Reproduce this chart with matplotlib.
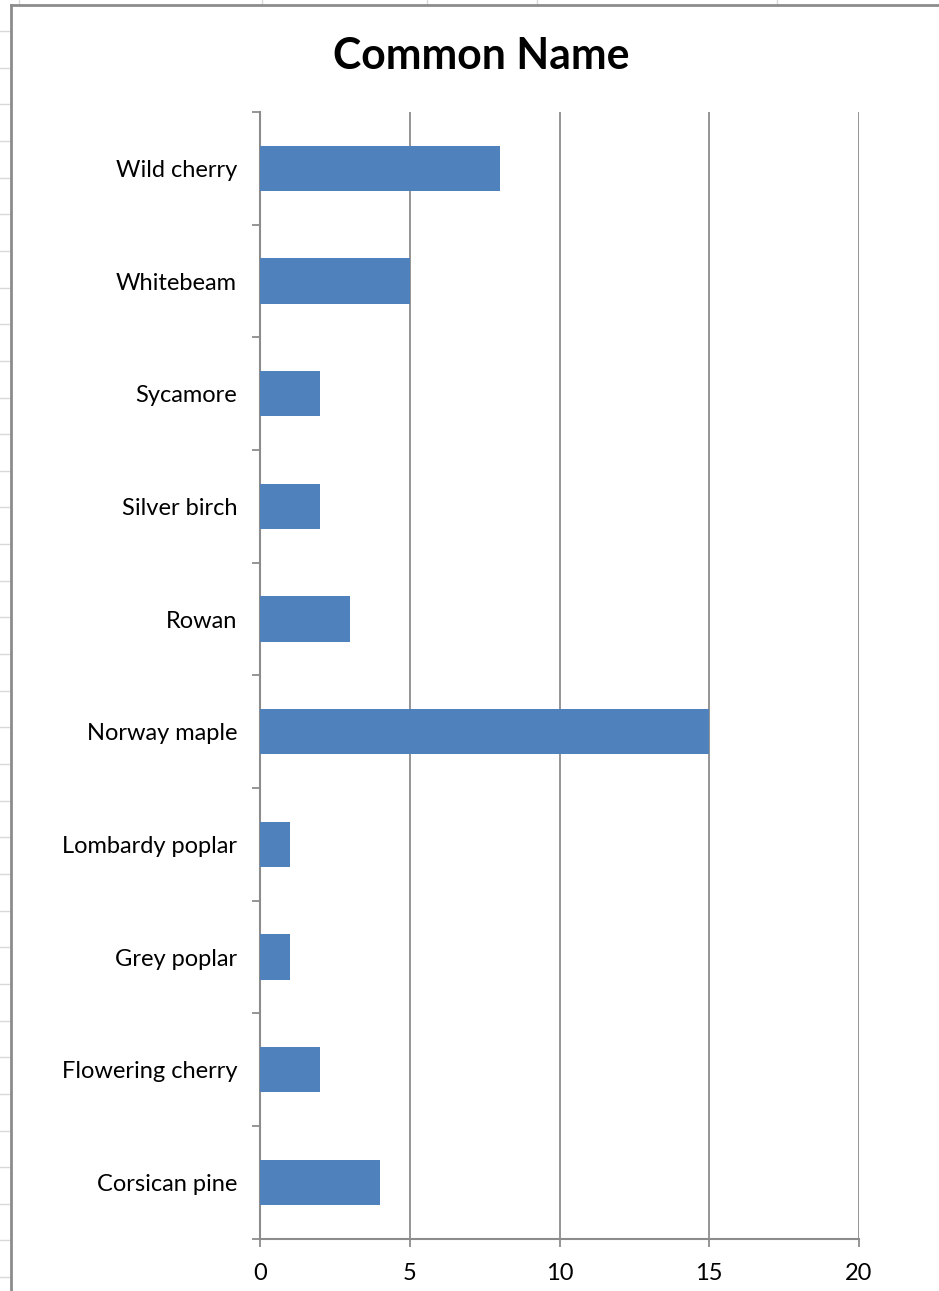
import matplotlib
matplotlib.use("Agg")
import matplotlib.pyplot as plt
from matplotlib.lines import Line2D

categories = ["Corsican pine", "Flowering cherry", "Grey poplar", "Lombardy poplar",
              "Norway maple", "Rowan", "Silver birch", "Sycamore", "Whitebeam", "Wild cherry"]
values = [4, 2, 1, 1, 15, 3, 2, 2, 5, 8]
x_ticks = [0, 5, 10, 15, 20]
title = "Common Name"

W, H = 939, 1291
fig = plt.figure(figsize=(W / 100, H / 100), dpi=100)
fig.patch.set_facecolor("white")

def fx(px):
    return px / W

def fy(py):
    return 1 - py / H

# spreadsheet cell gridlines outside the chart frame
for k in range(40):
    y = 31 + 36.65 * k
    if y > H:
        break
    fig.add_artist(Line2D([0, fx(10)], [fy(y), fy(y)], color="#d9d9d9", lw=1))
for x in [19, 262, 427, 537, 777]:
    fig.add_artist(Line2D([fx(x), fx(x)], [fy(0), fy(4)], color="#d9d9d9", lw=1))
# chart frame
fig.add_artist(Line2D([fx(11), fx(W + 5)], [fy(5), fy(5)], color="#8c8c8c", lw=2))
fig.add_artist(Line2D([fx(11), fx(11)], [fy(5), fy(H + 5)], color="#8c8c8c", lw=2))

ax = fig.add_axes([fx(260), fy(1238.7), fx(859) - fx(260), fy(112) - fy(1238.7)])
ax.barh(range(len(categories)), values, height=0.4, color="#4F81BD", zorder=3)
ax.set_xlim(0, 20)
ax.set_ylim(-0.5, len(categories) - 0.5)

ax.set_xticks(x_ticks)
ax.set_xticklabels([str(t) for t in x_ticks])
ax.set_yticks(range(len(categories)))
ax.set_yticklabels(categories)
ax.set_yticks([i - 0.5 for i in range(len(categories) + 1)], minor=True)

for s in ["top", "right"]:
    ax.spines[s].set_visible(False)
for s in ["left", "bottom"]:
    ax.spines[s].set_color("#8c8c8c")
    ax.spines[s].set_linewidth(1.5)

ax.grid(axis="x", color="#8c8c8c", lw=1.3, zorder=0)
ax.yaxis.grid(False)
gl = ax.get_xgridlines()
gl[0].set_visible(False)

fam = ["Lato", "DejaVu Sans"]
ax.tick_params(axis="y", which="major", length=0, pad=16.5, labelsize=17, labelcolor="black")
ax.tick_params(axis="y", which="minor", length=6, width=1.3, color="#8c8c8c", direction="out")
ax.tick_params(axis="x", which="major", length=6, width=1.3, color="#8c8c8c", direction="out",
               pad=11.5, labelsize=17, labelcolor="black")
for lab in ax.get_xticklabels() + ax.get_yticklabels():
    lab.set_fontfamily(fam)

fig.text(fx(481), fy(56), title, ha="center", va="center", fontsize=30.8,
         fontweight="bold", family=fam)

fig.savefig("out.png", dpi=100)
